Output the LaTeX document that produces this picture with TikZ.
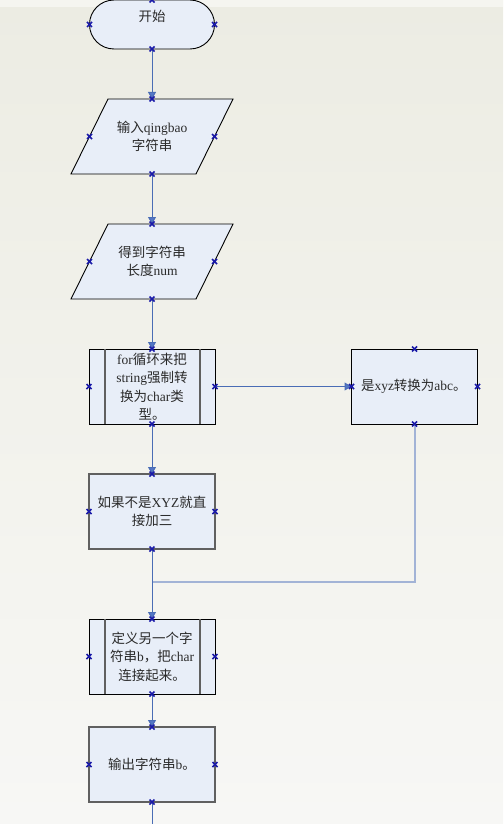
\documentclass[tikz,border=0pt]{standalone}
\usepackage{fontspec}
\setmainfont{Liberation Serif}
\newfontfamily\cjk{Noto Sans CJK SC}
\usetikzlibrary{arrows.meta,backgrounds,calc}
\definecolor{bgtop}{HTML}{ECECE3}
\definecolor{bgmid}{HTML}{F2F2EC}
\definecolor{bgbot}{HTML}{F7F7F5}
\definecolor{bgband}{HTML}{F5F5F0}
\definecolor{boxfill}{HTML}{E8EEF8}
\definecolor{conn}{HTML}{4A6DB5}
\definecolor{tipcol}{HTML}{5577C8}
\definecolor{retcol}{HTML}{A2B3D6}
\definecolor{mkcol}{HTML}{1A1AA8}
\definecolor{txtcol}{HTML}{2A2A2A}
\definecolor{edgecol}{HTML}{606060}
\newcommand\mkx[1]{\draw[mkstyle] ($(#1)+(-2.5,-2.5)$) -- ($(#1)+(2.5,2.5)$) ($(#1)+(-2.5,2.5)$) -- ($(#1)+(2.5,-2.5)$);}
\begin{document}
\begin{tikzpicture}[x=1pt,y=-1pt,
  every node/.style={inner sep=0pt, outer sep=0pt, font=\fontsize{13.5}{18.5}\selectfont, text=txtcol, align=center},
  termnode/.style={draw=black, line width=0.9pt, fill=boxfill, minimum width=125pt, minimum height=49pt, rounded corners=24.5pt},
  paranode/.style={minimum width=162pt, minimum height=75pt},
  parashape/.style={draw=black, line width=0.9pt, fill=boxfill},
  procnode/.style={draw=black, line width=0.9pt, fill=boxfill, minimum width=126pt, minimum height=75pt},
  plainbox/.style={draw=edgecol, line width=1.1pt, fill=boxfill, minimum width=126pt, minimum height=75pt},
  innerline/.style={draw=edgecol, line width=1.1pt},
  arr/.style={draw=conn, line width=1pt, -{Triangle[width=8pt,length=7pt,fill=tipcol]}},
  plainconn/.style={draw=conn, line width=1pt},
  retline/.style={draw=retcol, line width=2pt},
  mkstyle/.style={draw=mkcol, line width=1.7pt}
]
% background
\begin{pgfonlayer}{background}
\shade[top color=bgtop, bottom color=bgbot, middle color=bgmid] (0,0) rectangle (503,824);
\fill[bgband] (0,0) rectangle (503,7);
\end{pgfonlayer}
\useasboundingbox (0,0) rectangle (503,824);

% nodes
\node[termnode] (start) at (152,24.5) {};
\node at (152,16.5) {\cjk 开始};
\node[paranode] (in1) at (152,136.5) {{\cjk 输入}qingbao\\{\cjk 字符串}};
\node[paranode] (in2) at (152,261.5) {{\cjk 得到字符串}\\{\cjk 长度}num};
\node[procnode] (proc1) at (152,386.5) {for{\cjk 循环来把}\\string{\cjk 强制转}\\{\cjk 换为}char{\cjk 类}\\{\cjk 型。}};
\node[procnode] (xyz) at (414.5,386.5) {\makebox[107pt][l]{{\cjk 是}xyz{\cjk 转换为}abc{\cjk 。}}};
\node[plainbox] (add3) at (152,511.5) {{\cjk 如果不是}XYZ{\cjk 就直}\\{\cjk 接加三}};
\node[procnode] (proc2) at (152,656.5) {{\cjk 定义另一个字}\\{\cjk 符串}b{\cjk ，把}char\\{\cjk 连接起来。}};
\node[plainbox] (out) at (152,764.5) {{\cjk 输出字符串}b{\cjk 。}};
\coordinate (join) at (152,582);
\coordinate (bottomend) at (152,824);

% parallelogram outlines and inner lines
\begin{pgfonlayer}{background}
\draw[parashape] ($(in1.north west)+(37,0)$) -- (in1.north east) -- ($(in1.south east)+(-37,0)$) -- (in1.south west) -- cycle;
\draw[parashape] ($(in2.north west)+(37,0)$) -- (in2.north east) -- ($(in2.south east)+(-37,0)$) -- (in2.south west) -- cycle;
\end{pgfonlayer}
\draw[innerline] ([xshift=16pt]proc1.north west) -- ([xshift=16pt]proc1.south west);
\draw[innerline] ([xshift=-15pt]proc1.north east) -- ([xshift=-15pt]proc1.south east);
\draw[innerline] ([xshift=16pt]proc2.north west) -- ([xshift=16pt]proc2.south west);
\draw[innerline] ([xshift=-15pt]proc2.north east) -- ([xshift=-15pt]proc2.south east);

% connectors
\draw[retline] (xyz.south) |- (join);
\draw[arr] (start.south) -- (in1.north);
\draw[arr] (in1.south) -- (in2.north);
\draw[arr] (in2.south) -- (proc1.north);
\draw[arr] (proc1.east) -- (xyz.west);
\draw[arr] (proc1.south) -- (add3.north);
\draw[arr] (add3.south) -- (proc2.north);
\draw[arr] (proc2.south) -- (out.north);
\draw[plainconn] (out.south) -- (bottomend);

% connection markers
\mkx{start.north}\mkx{start.south}\mkx{start.west}\mkx{start.east}
\foreach \n in {in1,in2} {
  \mkx{\n.north}\mkx{\n.south}
  \draw[mkstyle] ($(\n.west)+(18.5,0)+(-2.5,-2.5)$) -- ++(5,5) ($(\n.west)+(18.5,0)+(-2.5,2.5)$) -- ++(5,-5);
  \draw[mkstyle] ($(\n.east)+(-18.5,0)+(-2.5,-2.5)$) -- ++(5,5) ($(\n.east)+(-18.5,0)+(-2.5,2.5)$) -- ++(5,-5);
}
\foreach \n in {proc1,xyz,add3,proc2,out} {
  \mkx{\n.north}\mkx{\n.south}\mkx{\n.west}\mkx{\n.east}
}
\end{tikzpicture}
\end{document}
